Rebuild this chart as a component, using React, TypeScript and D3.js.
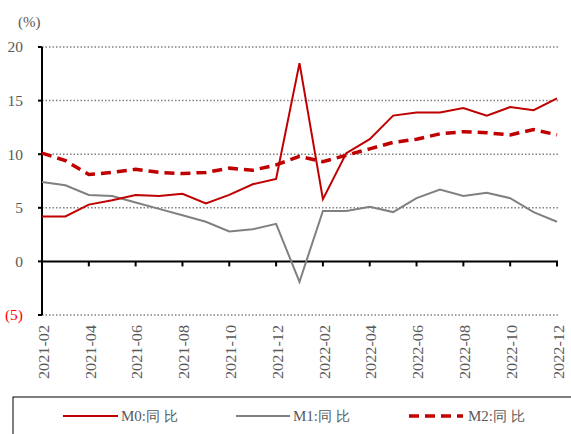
import React from "react";
import * as d3 from "d3";

const months = [
  "2021-02","2021-03","2021-04","2021-05","2021-06","2021-07","2021-08","2021-09","2021-10","2021-11","2021-12","2022-01",
  "2022-02","2022-03","2022-04","2022-05","2022-06","2022-07","2022-08","2022-09","2022-10","2022-11","2022-12",
];
const m0 = [4.2,4.2,5.3,5.7,6.2,6.1,6.3,5.4,6.2,7.2,7.7,18.5,5.8,10.1,11.4,13.6,13.9,13.9,14.3,13.6,14.4,14.1,15.2];
const m1 = [7.4,7.1,6.2,6.1,5.5,4.9,4.3,3.7,2.8,3.0,3.5,-1.9,4.7,4.7,5.1,4.6,5.9,6.7,6.1,6.4,5.9,4.6,3.7];
const m2 = [10.1,9.4,8.1,8.3,8.6,8.3,8.2,8.3,8.7,8.5,9.0,9.8,9.3,9.9,10.5,11.1,11.4,11.9,12.1,12.0,11.8,12.3,11.8];
const yTicks = [20, 15, 10, 5, 0, -5];
const yTickLabels = ["20", "15", "10", "5", "0", "(5)"];
const legendNames = ["M0:", "M1:", "M2:"];
const legendSuffix = ["同", "比"];

const RED = "#C00000";
const GRAY = "#808080";
const TXT = "#595959";
const FONT = "'Liberation Serif', 'Times New Roman', serif";

export default function App() {
  const W = 571, H = 434;
  const x0 = 42, x1 = 557;
  const x = d3.scalePoint<string>().domain(months).range([x0, x1]);
  const y = d3.scaleLinear().domain([-5, 20]).range([315, 47]);
  const line = (vals: number[]) =>
    d3.line<number>().x((_, i) => x(months[i])!).y((d) => y(d))(vals)!;

  const legendItems = [
    { lx1: 63, lx2: 118, tx: 121, color: RED, w: 2, dash: undefined as string | undefined },
    { lx1: 236, lx2: 290, tx: 293, color: GRAY, w: 2, dash: undefined },
    { lx1: 409, lx2: 463, tx: 468, color: RED, w: 3.5, dash: "10,6" },
  ];

  return (
    <svg width={W} height={H} style={{ position: "absolute", left: 0, top: 0, background: "#fff" }}>
      {yTicks.filter((t) => t !== 0).map((t) => (
        <line key={"g" + t} x1={x0} x2={x1 + 1} y1={y(t)} y2={y(t)} stroke={GRAY} strokeWidth={1.5} strokeDasharray="1.5,2" />
      ))}
      <line x1={x0} x2={x0} y1={y(20)} y2={y(-5)} stroke="#000" strokeWidth={2} />
      {yTicks.map((t, i) => (
        <g key={"yt" + t}>
          <line x1={x0 - 4} x2={x0} y1={y(t)} y2={y(t)} stroke="#000" strokeWidth={2} />
          <text x={23} y={y(t)} dy="0.35em" textAnchor="end" fontFamily={FONT} fontSize={15.5} fill={t < 0 ? "#FF0000" : TXT}>
            {yTickLabels[i]}
          </text>
        </g>
      ))}
      <text x={18} y={22} dy="0.35em" fontFamily={FONT} fontSize={15} fill={TXT}>(%)</text>
      <line x1={x0} x2={x1 + 1} y1={y(0)} y2={y(0)} stroke="#000" strokeWidth={2} />
      {months.map((m, i) =>
        i % 2 === 0 && i > 0 ? (
          <line key={"xt" + m} x1={x(m)} x2={x(m)} y1={y(0)} y2={y(0) + 5} stroke="#000" strokeWidth={2} />
        ) : null
      )}
      {months.map((m, i) =>
        i % 2 === 0 ? (
          <text key={"xl" + m} transform={`translate(${x(m)! + 1.5},325) rotate(-90)`} dy="0.35em" textAnchor="end"
            fontFamily={FONT} fontSize={15} textLength={54} lengthAdjust="spacingAndGlyphs" fill={TXT}>{m}</text>
        ) : null
      )}
      <path d={line(m1)} fill="none" stroke={GRAY} strokeWidth={2} />
      <path d={line(m0)} fill="none" stroke={RED} strokeWidth={2} />
      <path d={line(m2)} fill="none" stroke={RED} strokeWidth={3.5} strokeDasharray="10,6" />
      <rect x={13} y={397} width={570} height={60} fill="none" stroke="#000" strokeWidth={1} />
      {legendItems.map((it, i) => (
        <g key={"lg" + i}>
          <line x1={it.lx1} x2={it.lx2} y1={416} y2={416} stroke={it.color} strokeWidth={it.w} strokeDasharray={it.dash} />
          <text x={it.tx} y={416} dy="0.35em" fontFamily={FONT} fontSize={15} fill={TXT}>
            {legendNames[i]}
            <tspan fontSize={14}>{legendSuffix[0]}</tspan>
            <tspan dx={4} fontSize={14}>{legendSuffix[1]}</tspan>
          </text>
        </g>
      ))}
    </svg>
  );
}
